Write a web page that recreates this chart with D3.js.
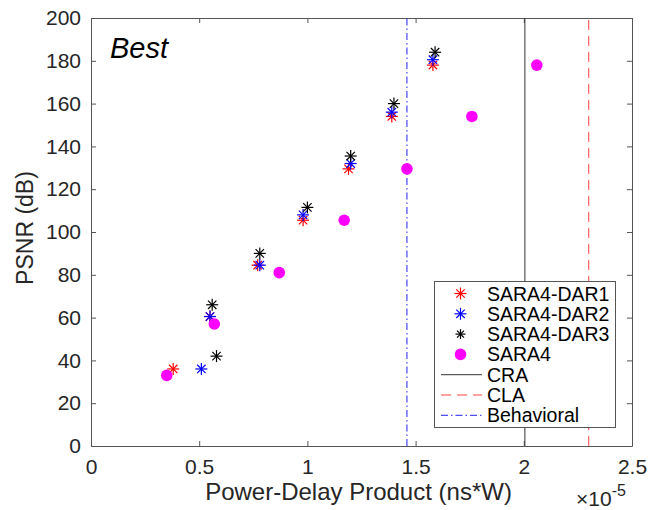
<!DOCTYPE html>
<html>
<head>
<meta charset="utf-8">
<script src="https://cdn.jsdelivr.net/npm/d3@7"></script>
<style>
  body { margin: 0; background: #fff; }
  svg { display: block; font-family: "Liberation Sans", Arial, Helvetica, sans-serif; }
</style>
</head>
<body>
<script>
// PSNR vs power-delay product, x values are in units of 1e-5 ns*W

var dar1X = [0.38, 0.55, 0.77, 0.98, 1.19, 1.39, 1.58];
var dar1Y = [36, 60.5, 84.5, 105.5, 129.5, 154, 178];

var dar2X = [0.51, 0.55, 0.78, 0.98, 1.20, 1.39, 1.58];
var dar2Y = [36, 60.5, 84.5, 108, 132, 156, 180.5];

var dar3X = [0.58, 0.56, 0.78, 1.00, 1.20, 1.40, 1.59];
var dar3Y = [42, 66, 90, 111.5, 135.5, 160, 184];

var sara4X = [0.35, 0.57, 0.87, 1.17, 1.46, 1.76, 2.06];
var sara4Y = [33, 57, 81, 105.5, 129.5, 154, 178];

// reference lines (vertical)
var refNames = ['CRA', 'CLA', 'Behavioral'];
var refX = [2.005, 2.30, 1.46];

var xTicks = [0, 0.5, 1, 1.5, 2, 2.5];
var yTicks = [0, 20, 40, 60, 80, 100, 120, 140, 160, 180, 200];

var seriesNames = ['SARA4-DAR1', 'SARA4-DAR2', 'SARA4-DAR3', 'SARA4'];

var width = 649, height = 510;
var plot = {left: 91, right: 632, top: 18, bottom: 446};
var axisCol = '#555';
var textCol = '#262626';

var svg = d3.select('body').append('svg')
    .attr('width', width)
    .attr('height', height);

var x = d3.scaleLinear().domain([0, 2.5]).range([plot.left, plot.right]);
var y = d3.scaleLinear().domain([0, 200]).range([plot.bottom, plot.top]);

// box + inward ticks, matlab style
function styleAxis(g){
    g.selectAll('path').attr('stroke', axisCol).attr('stroke-width', 1);
    g.selectAll('line').attr('stroke', axisCol);
    g.selectAll('text').attr('fill', textCol).style('font-size', '21px');
}

svg.append('g')
    .attr('transform', `translate(0,${plot.bottom})`)
    .call(d3.axisBottom(x).tickValues(xTicks).tickSize(-5).tickSizeOuter(0).tickPadding(13).tickFormat(d3.format('')))
    .call(styleAxis)
    .call(g => g.attr('font-family', null));

svg.append('g')
    .attr('transform', `translate(${plot.left},0)`)
    .call(d3.axisLeft(y).tickValues(yTicks).tickSize(-5).tickSizeOuter(0).tickPadding(10))
    .call(styleAxis)
    .call(g => g.attr('font-family', null));

svg.append('g')
    .attr('transform', `translate(0,${plot.top})`)
    .call(d3.axisTop(x).tickValues(xTicks).tickSize(-5).tickSizeOuter(0).tickFormat(''))
    .call(styleAxis);

svg.append('g')
    .attr('transform', `translate(${plot.right},0)`)
    .call(d3.axisRight(y).tickValues(yTicks).tickSize(-5).tickSizeOuter(0).tickFormat(''))
    .call(styleAxis);

// axis labels
svg.append('text')
    .attr('x', (plot.left + plot.right) / 2 - 3)
    .attr('y', 500)
    .attr('text-anchor', 'middle')
    .attr('fill', textCol)
    .style('font-size', '24px')
    .text('Power-Delay Product (ns*W)');

svg.append('text')
    .attr('transform', `translate(33,${(plot.top + plot.bottom) / 2 - 4}) rotate(-90)`)
    .attr('text-anchor', 'middle')
    .attr('fill', textCol)
    .style('font-size', '23px')
    .text('PSNR (dB)');

var expo = svg.append('text')
    .attr('x', 576)
    .attr('y', 506)
    .attr('fill', textCol)
    .style('font-size', '21px');
expo.append('tspan').text('\u00d710');
expo.append('tspan').attr('dy', -10).style('font-size', '16px').text('-5');

svg.append('text')
    .attr('x', 110)
    .attr('y', 58)
    .attr('fill', '#000')
    .style('font-size', '29px')
    .style('font-style', 'italic')
    .text('Best');

// reference lines
var refStyles = [
    {stroke: '#333', dash: null},
    {stroke: '#f44', dash: '10,6'},
    {stroke: '#2222ee', dash: '7,3,1.5,3'}
];

svg.selectAll('.ref')
    .data(refX)
    .enter().append('line')
    .attr('class', 'ref')
    .attr('x1', d => x(d)).attr('x2', d => x(d))
    .attr('y1', y(0)).attr('y2', y(200))
    .attr('stroke', (d, i) => refStyles[i].stroke)
    .attr('stroke-width', 1)
    .attr('stroke-dasharray', (d, i) => refStyles[i].dash);

// asterisk marker
function star(sel, col, r){
    var arms = [[0, -r, 0, r], [-r, 0, r, 0], [-r*0.7, -r*0.7, r*0.7, r*0.7], [-r*0.7, r*0.7, r*0.7, -r*0.7]];
    arms.forEach(function(a){
        sel.append('line')
            .attr('x1', a[0]).attr('y1', a[1]).attr('x2', a[2]).attr('y2', a[3])
            .attr('stroke', col).attr('stroke-width', 1.2);
    });
}

var starSeries = [
    {xs: dar1X, ys: dar1Y, col: '#ff0000'},
    {xs: dar2X, ys: dar2Y, col: '#0000ff'},
    {xs: dar3X, ys: dar3Y, col: '#000000'}
];

starSeries.forEach(function(s){
    svg.append('g').selectAll('g')
        .data(d3.range(s.xs.length))
        .enter().append('g')
        .attr('transform', i => `translate(${x(s.xs[i])},${y(s.ys[i])})`)
        .each(function(){ star(d3.select(this), s.col, 6); });
});

svg.append('g').selectAll('circle')
    .data(d3.range(sara4X.length))
    .enter().append('circle')
    .attr('cx', i => x(sara4X[i]))
    .attr('cy', i => y(sara4Y[i]))
    .attr('r', 5.8)
    .attr('fill', '#ff00ff');

// legend
var leg = svg.append('g');
leg.append('rect')
    .attr('x', 434.5).attr('y', 281.5)
    .attr('width', 181).attr('height', 146)
    .attr('fill', '#fff')
    .attr('stroke', axisCol);

var legNames = seriesNames.concat(refNames);
var rowY = d => 293.5 + d * 20.3;

legNames.forEach(function(name, i){
    var cy = rowY(i);
    if (i < 3) {
        var g = leg.append('g').attr('transform', `translate(460.5,${cy})`);
        star(g, starSeries[i].col, i == 2 ? 5 : 6);
    } else if (i == 3) {
        leg.append('circle').attr('cx', 460.5).attr('cy', cy).attr('r', 5.8).attr('fill', '#ff00ff');
    } else {
        var st = refStyles[i - 4];
        leg.append('line')
            .attr('x1', 441).attr('x2', 482)
            .attr('y1', cy).attr('y2', cy)
            .attr('stroke', st.stroke)
            .attr('stroke-dasharray', st.dash);
    }
    leg.append('text')
        .attr('x', 487)
        .attr('y', cy + 7)
        .attr('fill', '#000')
        .style('font-size', '19.5px')
        .text(name);
});
</script>
</body>
</html>
